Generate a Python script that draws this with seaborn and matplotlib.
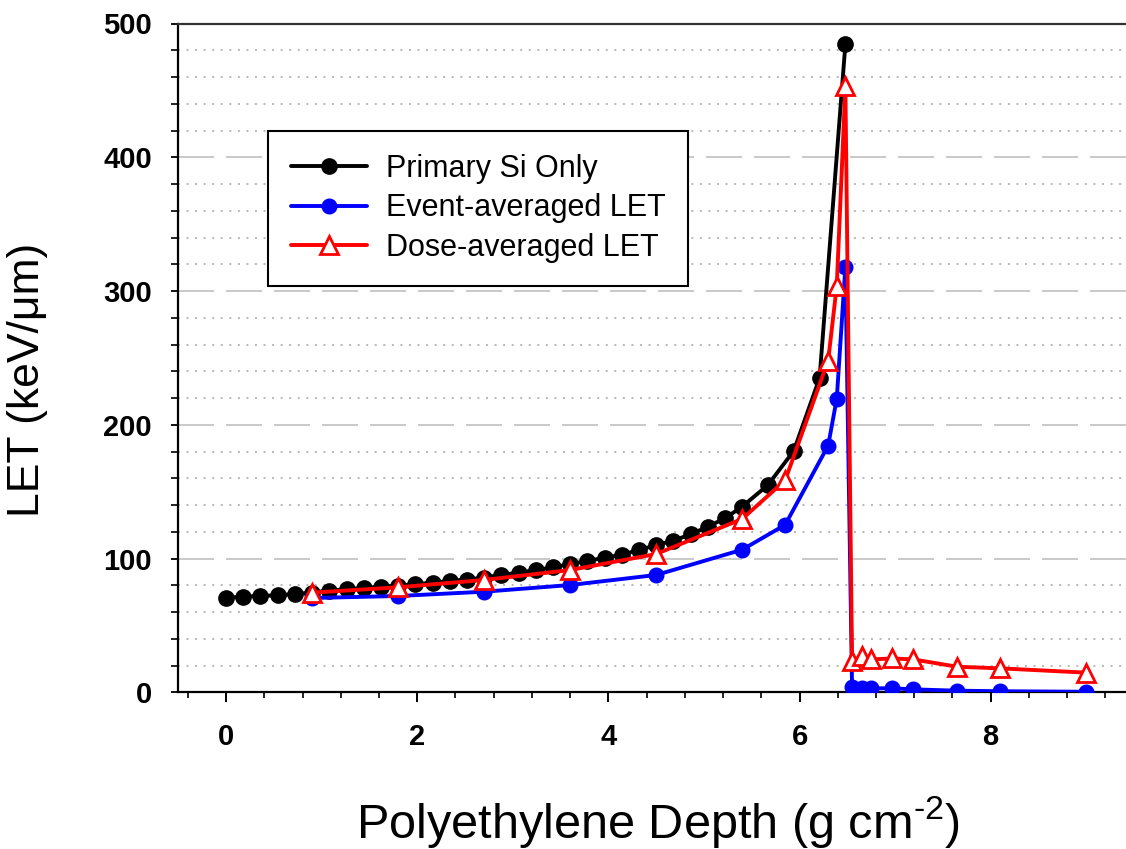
import matplotlib
matplotlib.use("Agg")
import matplotlib.pyplot as plt
from matplotlib.ticker import MultipleLocator
import seaborn as sns

# ---------------- data ----------------
primary_x = [0.00, 0.18, 0.36, 0.54, 0.72, 0.90, 1.08, 1.26, 1.44, 1.62,
             1.80, 1.98, 2.16, 2.34, 2.52, 2.70, 2.88, 3.06, 3.24, 3.42,
             3.60, 3.78, 3.96, 4.14, 4.32, 4.50, 4.68, 4.86, 5.04, 5.22,
             5.40, 5.67, 5.94, 6.21, 6.48]
primary_y = [70.7, 71.5, 72.0, 72.6, 73.5, 74.6, 76.0, 77.0, 78.0, 79.0,
             79.8, 80.8, 82.0, 83.2, 84.3, 85.8, 87.8, 89.4, 91.4, 93.4,
             95.9, 98.2, 100.6, 102.8, 106.4, 110.0, 113.4, 118.1, 123.8, 130.1,
             138.8, 155.0, 180.5, 235.0, 484.5]

avg_x = [0.90, 1.80, 2.70, 3.60, 4.50, 5.40, 5.85, 6.30, 6.39, 6.48,
         6.55, 6.65, 6.75, 6.97, 7.19, 7.65, 8.10, 9.00]
event_y = [70.5, 72.0, 75.2, 80.2, 87.7, 106.6, 125.2, 184.5, 219.6, 318.0,
           4.0, 3.5, 3.0, 3.0, 2.2, 1.2, 0.8, 0.4]
dose_y = [74.5, 78.5, 84.0, 91.4, 103.4, 129.6, 158.5, 248.0, 304.0, 453.0,
          23.4, 27.0, 24.6, 25.3, 24.6, 19.1, 17.9, 14.7]

labels = ["Primary Si Only", "Event-averaged LET", "Dose-averaged LET"]
y_ticks = [0, 100, 200, 300, 400, 500]
x_ticks = [0, 2, 4, 6, 8]
x_label = r"Polyethylene Depth (g cm$^{\text{-2}}$)"
y_label = "LET (keV/\u03bcm)"

# ---------------- style ----------------
sns.set_style("ticks")
plt.rcParams["font.family"] = ["Liberation Sans", "DejaVu Sans"]
plt.rcParams["mathtext.fontset"] = "custom"
plt.rcParams["mathtext.rm"] = "Liberation Sans"
plt.rcParams["mathtext.it"] = "Liberation Sans:italic"
plt.rcParams["mathtext.bf"] = "Liberation Sans:bold"
for k in ["text.color", "axes.labelcolor", "xtick.color", "ytick.color",
          "axes.edgecolor"]:
    plt.rcParams[k] = "black"

W, H = 1126, 849
fig = plt.figure(figsize=(W / 100, H / 100), dpi=100)
ax_left, ax_right, ax_top, ax_bottom = 178.3, 1134.0, 23.5, 692.3
ax = fig.add_axes([ax_left / W, 1 - ax_bottom / H,
                   (ax_right - ax_left) / W, (ax_bottom - ax_top) / H])

LW = 2.8
sns.lineplot(x=primary_x, y=primary_y, ax=ax, color="black", linewidth=LW,
             marker="o", markersize=11, markeredgecolor="black",
             markeredgewidth=1, sort=False, estimator=None,
             label=labels[0], zorder=3)
sns.lineplot(x=avg_x, y=event_y, ax=ax, color="#0000ff", linewidth=LW,
             marker="o", markersize=10.5, markeredgecolor="#0000ff",
             markeredgewidth=1, sort=False, estimator=None,
             label=labels[1], zorder=4)
sns.lineplot(x=avg_x, y=dose_y, ax=ax, color="#ff0000", linewidth=LW,
             marker="^", markersize=12.5, markerfacecolor="white",
             markeredgecolor="#ff0000", markeredgewidth=2.0, sort=False,
             estimator=None, label=labels[2], zorder=5)
for ln in ax.lines:
    ln.set_linewidth(LW)

ax.set_xlim(-0.5, 9.5)
ax.set_ylim(0, 500)
ax.set_xticks(x_ticks)
ax.set_yticks(y_ticks)
ax.xaxis.set_minor_locator(MultipleLocator(0.4))
ax.yaxis.set_minor_locator(MultipleLocator(20))

# grid
ax.set_axisbelow(True)
ax.grid(False)
ax.yaxis.grid(True, which="major", color="#c0c0c0", lw=1.2,
              linestyle=(0, (21.6, 7.2)))
ax.yaxis.grid(True, which="minor", color="#b8b8b8", lw=1.4,
              linestyle=(0, (1, 3.4)))

# spines
for s in ["left", "bottom", "top"]:
    ax.spines[s].set_color("black")
    ax.spines[s].set_linewidth(1.6)
ax.spines["top"].set_color("#333333")
ax.spines["right"].set_visible(False)

ax.tick_params(axis="x", which="major", direction="out", length=7, width=1.4,
               pad=15, labelsize=21, colors="black")
ax.tick_params(axis="x", which="minor", direction="out", length=4.3, width=1.2,
               colors="black")
ax.tick_params(axis="y", which="major", direction="out", length=5, width=1.3,
               pad=14, labelsize=21, colors="black")
ax.tick_params(axis="y", which="minor", direction="out", length=5, width=1.2,
               colors="black")
for lab in ax.get_xticklabels() + ax.get_yticklabels():
    lab.set_fontweight("bold")

ax.set_xlabel("")
ax.set_ylabel("")
fig.text(658 / W, 1 - 838 / H, x_label, fontsize=35, ha="center",
         va="baseline", color="black")
fig.text(28 / W, 1 - 380 / H, y_label, fontsize=32, rotation=90,
         ha="center", va="center", color="black")

leg = ax.legend(loc="upper left", bbox_to_anchor=(268 / W, 1 - 130.7 / H),
                bbox_transform=fig.transFigure, borderaxespad=0,
                fontsize=22, frameon=True, fancybox=False, shadow=False,
                framealpha=1, edgecolor="black", handlelength=2.5,
                handletextpad=0.6, labelspacing=0.32, borderpad=0.75)
leg.get_frame().set_linewidth(1.5)
for t in leg.get_texts():
    t.set_color("black")
for h in leg.get_lines():
    h.set_linewidth(LW)

fig.savefig("out.png", dpi=100)
